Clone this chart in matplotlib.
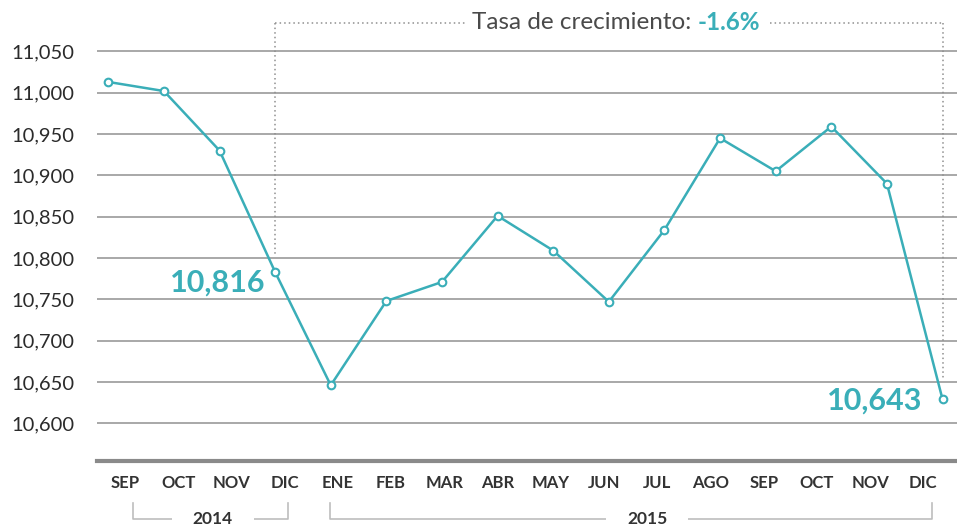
import numpy as np
import matplotlib
matplotlib.use('Agg')
import matplotlib.pyplot as plt
from matplotlib.lines import Line2D
from matplotlib.transforms import blended_transform_factory

plt.rcParams['font.family'] = ['Lato', 'DejaVu Sans']

# datos
meses = ['SEP', 'OCT', 'NOV', 'DIC', 'ENE', 'FEB', 'MAR', 'ABR',
         'MAY', 'JUN', 'JUL', 'AGO', 'SEP', 'OCT', 'NOV', 'DIC']
valores = [11013, 11002, 10930, 10783, 10646, 10748, 10771, 10851,
           10809, 10747, 10834, 10945, 10905, 10959, 10890, 10629]
anios = ['2014', '2015']
valor_inicio = 10816   # dato anotado DIC 2014
valor_fin = 10643      # dato anotado DIC 2015
yticks = list(range(10600, 11051, 50))

teal = '#3aaeb8'
gris = '#9a9a9a'
texto = '#2b2b2b'

fig = plt.figure(figsize=(9.57, 5.31), dpi=100)
ax = fig.add_axes([97 / 957, 1 - 461 / 531, 860 / 957, 416 / 531])

x = np.arange(len(valores))
ax.plot(x, valores, color=teal, lw=1.8, marker='o', ms=5.5,
        mfc='white', mec=teal, mew=1.5, zorder=3)

ax.set_xlim(-0.203, 15.26)
ax.set_ylim(10554.4, 11057.7)

ax.set_yticks(yticks)
ax.set_yticklabels([f'{v:,}' for v in yticks])
ax.yaxis.grid(True, color=gris, lw=1.2)
ax.set_axisbelow(True)
ax.tick_params(axis='y', length=0, pad=16, labelsize=14.5, labelcolor=texto)

# etiquetas de meses un poco corridas respecto a los puntos (como en el original)
xlab = 0.30 + 0.957 * x
ax.set_xticks(xlab)
ax.set_xticklabels(meses, fontweight='bold')
ax.tick_params(axis='x', length=0, pad=10, labelsize=12, labelcolor='#333333')

for s in ['top', 'right', 'left']:
    ax.spines[s].set_visible(False)
ax.spines['bottom'].set_color('#8a8a8a')
ax.spines['bottom'].set_linewidth(3)

# valores anotados
ax.annotate(f'{valor_inicio:,}', (x[3], valores[3]), xytext=(-57, -11),
            textcoords='offset pixels', ha='center', va='center',
            fontsize=22, fontweight='bold', color=teal)
ax.annotate(f'{valor_fin:,}', (x[-1], valores[-1]), xytext=(-68, -1),
            textcoords='offset pixels', ha='center', va='center',
            fontsize=22, fontweight='bold', color=teal)

# corchete superior con tasa de crecimiento
ylo, yhi = ax.get_ylim()
y_top = ylo + 1.053 * (yhi - ylo)
punteado = dict(color='#8f8f8f', lw=1.1, ls=(0, (1, 2)), clip_on=False)
hueco = (6.45, 11.9)   # espacio que deja el título sobre la línea
ax.add_line(Line2D([x[3], hueco[0]], [y_top, y_top], **punteado))
ax.add_line(Line2D([hueco[1], x[-1]], [y_top, y_top], **punteado))
ax.add_line(Line2D([x[3], x[3]], [y_top, valores[3] + 21], **punteado))
ax.add_line(Line2D([x[-1], x[-1]], [y_top, valores[-1] + 25], **punteado))

tasa = (valor_fin - valor_inicio) / valor_inicio * 100
ax.text(10.6, y_top, 'Tasa de crecimiento: ', ha='right', va='center',
        fontsize=17.5, color='#4a4a4a', clip_on=False)
ax.text(10.6, y_top, f'{tasa:.1f}%', ha='left', va='center', fontsize=17.5,
        fontweight='bold', color=teal, clip_on=False)

# corchetes de años
tr = blended_transform_factory(ax.transData, ax.transAxes)
corchetes = [(0.44, 3.23), (3.985, 14.805)]
centros = [1.88, 9.69]
for anio, (x0, x1), xc in zip(anios, corchetes, centros):
    ax.add_line(Line2D([x0, x0, x1, x1], [-0.101, -0.139, -0.139, -0.101],
                       transform=tr, color='#bdbdbd', lw=1.2, clip_on=False))
    ax.text(xc, -0.139, anio, transform=tr, ha='center', va='center',
            fontsize=12.5, fontweight='bold', color='#333333',
            bbox=dict(facecolor='white', edgecolor='none',
                      boxstyle='square,pad=1.2'), clip_on=False)

fig.savefig('out.png', dpi=100)
